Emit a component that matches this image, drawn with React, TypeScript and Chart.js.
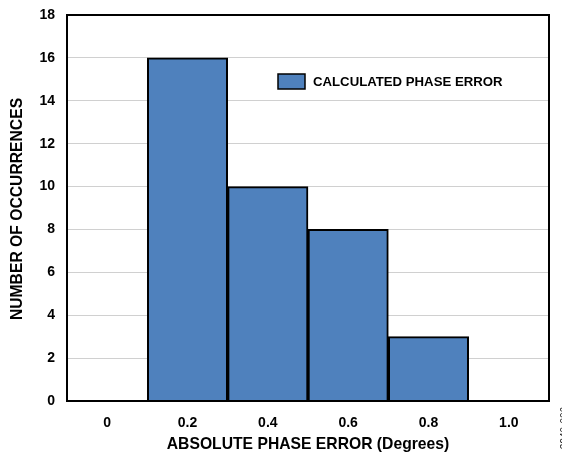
import React, { useEffect, useRef } from "react";
import { Chart, registerables } from "chart.js";

Chart.register(...registerables);

const categories = ["0", "0.2", "0.4", "0.6", "0.8", "1.0"];
const occurrences = [0, 16, 10, 8, 3, 0];
const seriesLabel = "CALCULATED PHASE ERROR";
const xTitle = "ABSOLUTE PHASE ERROR (Degrees)";
const yTitle = "NUMBER OF OCCURRENCES";
const figureId = "2940-006";
const yMin = 0;
const yMax = 18;
const yStep = 2;

const FONT = "'Liberation Sans', Arial, sans-serif";
const BAR_COLOR = "#4f81bd";

const decorPlugin = {
  id: "decor",
  afterDraw(chart: any) {
    const { ctx, chartArea } = chart;
    const { left, right, top, bottom } = chartArea;
    ctx.save();
    // frame
    ctx.strokeStyle = "#000";
    ctx.lineWidth = 2;
    ctx.strokeRect(left, top, right - left, bottom - top);

    // legend
    const bx = left + 211;
    const by = top + 59;
    ctx.fillStyle = BAR_COLOR;
    ctx.fillRect(bx, by, 27, 15);
    ctx.lineWidth = 1.5;
    ctx.strokeStyle = "#000";
    ctx.strokeRect(bx, by, 27, 15);
    ctx.fillStyle = "#000";
    ctx.font = `bold 13.2px ${FONT}`;
    ctx.textAlign = "left";
    ctx.textBaseline = "middle";
    ctx.fillText(seriesLabel, bx + 35, by + 8);

    // x title
    ctx.font = `bold 15.7px ${FONT}`;
    ctx.textAlign = "center";
    ctx.textBaseline = "middle";
    ctx.fillText(xTitle, (left + right) / 2, 437);

    // y title
    ctx.save();
    ctx.translate(10, (top + bottom) / 2 + 1);
    ctx.rotate(-Math.PI / 2);
    ctx.fillText(yTitle, 0, 0);
    ctx.restore();

    // figure id
    ctx.save();
    ctx.translate(557, 420);
    ctx.rotate(-Math.PI / 2);
    ctx.font = `10px ${FONT}`;
    ctx.fillStyle = "#222";
    ctx.fillText(figureId, 0, 0);
    ctx.restore();

    ctx.restore();
  },
};

export default function App() {
  const ref = useRef<HTMLCanvasElement | null>(null);
  useEffect(() => {
    if (!ref.current) return;
    const chart = new Chart(ref.current, {
      type: "bar",
      data: {
        labels: categories,
        datasets: [
          {
            label: seriesLabel,
            data: occurrences,
            backgroundColor: BAR_COLOR,
            borderColor: "#000",
            borderWidth: 2,
            barPercentage: 1,
            categoryPercentage: 1,
          },
        ],
      },
      options: {
        animation: false,
        responsive: false,
        maintainAspectRatio: false,
        layout: { padding: { top: 7, right: 21, left: 0, bottom: 0 } },
        plugins: {
          legend: { display: false },
          tooltip: { enabled: false },
        },
        scales: {
          x: {
            offset: true,
            grid: { display: false, drawTicks: false },
            border: { display: false },
            ticks: {
              color: "#000",
              padding: 14,
              font: { family: FONT, size: 14, weight: "bold" },
            },
            afterFit(scale: any) {
              scale.height = 54;
              scale.paddingLeft = 0;
              scale.paddingRight = 0;
            },
          },
          y: {
            min: yMin,
            max: yMax,
            grid: { color: "#d0d0d0", lineWidth: 1, drawTicks: false },
            border: { display: false },
            ticks: {
              stepSize: yStep,
              color: "#000",
              padding: 12,
              font: { family: FONT, size: 14, weight: "bold" },
            },
            afterFit(scale: any) {
              scale.width = 59;
              scale.paddingTop = 0;
              scale.paddingBottom = 0;
            },
          },
        },
      },
      plugins: [decorPlugin],
    });
    return () => chart.destroy();
  }, []);
  return (
    <div style={{ width: 562, height: 447 }}>
      <canvas ref={ref} width={562} height={447} style={{ display: "block" }} />
    </div>
  );
}
